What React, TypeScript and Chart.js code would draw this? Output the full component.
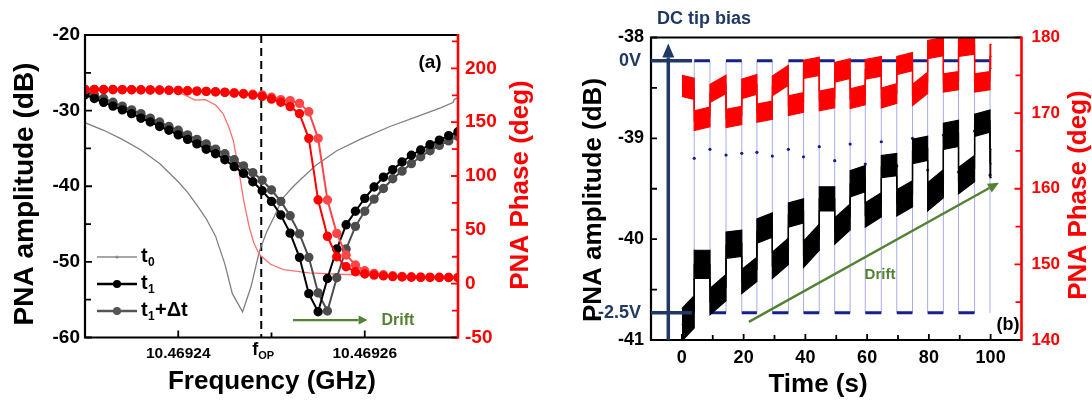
import React, { useEffect, useRef } from "react";
import { Chart, registerables } from "chart.js";
Chart.register(...registerables);

// ================= Panel (a) data =================
const FREQ_START_GHZ = 10.46923;
const FREQ_END_GHZ = 10.46927;
const FOP_GHZ = 10.4692489;
// sweep offsets (kHz from FREQ_START_GHZ)
const SWEEP_KHZ = [0, 1, 2, 3, 4, 5, 6, 7, 8, 9, 10, 11, 12, 13, 14, 15, 16, 17, 18, 19, 20,
  21, 22, 23, 24, 25, 26, 27, 28, 29, 30, 31, 32, 33, 34, 35, 36, 37, 38, 39, 40];
const AMP_T1 = [-27.9, -28.4, -28.9, -29.4, -29.9, -30.4, -31.0, -31.5, -32.1, -32.6,
  -33.2, -33.8, -34.4, -35.1, -35.7, -36.5, -37.4, -38.3, -39.4, -40.6,
  -42.0, -43.8, -46.2, -49.4, -54.2, -56.6, -52.2, -48.3, -45.1, -43.3,
  -41.6, -40.1, -38.8, -37.8, -36.8, -35.9, -35.2, -34.5, -33.9, -33.3, -32.8];
const AMP_T1DT = [-27.4, -27.9, -28.4, -28.9, -29.4, -29.9, -30.4, -31.0, -31.5, -32.1,
  -32.6, -33.2, -33.8, -34.4, -35.1, -35.7, -36.5, -37.3, -38.2, -39.2,
  -40.5, -42.0, -43.9, -46.3, -49.4, -54.1, -56.5, -52.1, -48.3, -45.3,
  -43.3, -41.7, -40.3, -39.0, -38.0, -37.0, -36.1, -35.3, -34.6, -34.0, -33.4];
const PHASE_T1 = [180.5, 180.5, 180.4, 180.4, 180.3, 180.2, 180.1, 180.0, 179.9, 179.7,
  179.5, 179.2, 178.9, 178.6, 178.2, 177.7, 177.0, 176.2, 175.2, 174.0,
  171.5, 168.5, 164.5, 158.0, 135.0, 77.7, 44.0, 25.0, 15.7, 11.1,
  9.0, 8.0, 7.2, 6.6, 6.2, 6.0, 5.9, 5.8, 5.7, 5.7, 5.6];
const PHASE_T1DT = [180.3, 180.3, 180.3, 180.2, 180.2, 180.1, 180.0, 179.9, 179.8, 179.6,
  179.4, 179.2, 178.9, 178.6, 178.3, 177.9, 177.4, 176.8, 176.0, 175.2,
  173.2, 171.0, 170.0, 167.5, 159.7, 135.0, 77.7, 46.7, 26.6, 17.3,
  12.0, 9.6, 8.3, 7.4, 6.8, 6.4, 6.1, 6.0, 5.9, 5.8, 5.8];
const T0_AMP_KHZ = [0, 2, 4, 6, 8, 10, 11, 12, 13, 14, 15, 15.8, 16.9, 17.8, 18.7, 19.5, 20.3,
  21.2, 22.2, 23.2, 24.8, 27, 29.5, 32.7, 35.6, 38.2, 39.5, 39.6, 40];
const T0_AMP = [-31.6, -32.6, -33.8, -35.2, -37.0, -39.4, -40.8, -42.5, -44.3, -46.6, -50.3,
  -54.2, -56.6, -53.3, -48.6, -46.0, -44.0, -41.6, -40.2, -39.0, -37.2, -35.3, -33.8,
  -32.1, -30.8, -29.6, -28.9, -28.5, -28.3];
const T0_PHASE_KHZ = [0, 4, 8, 9.4, 10.5, 11.8, 12.9, 14, 14.8, 15.4, 15.9, 16.4, 17, 17.6,
  18.1, 18.7, 19.9, 21.3, 24, 28, 32, 36, 40];
const T0_PHASE = [180.5, 180.3, 179.8, 179.0, 176.0, 170.5, 171.0, 166.0, 158.0, 146.0,
  133.0, 110.0, 78.0, 53.0, 38.0, 27.0, 18.0, 13.0, 10.0, 8.5, 7.5, 6.5, 6.0];

const A_AMP_TICKS = [-60, -50, -40, -30, -20];
const A_AMP_MINOR = [-55, -45, -35, -25];
const A_PHASE_TICKS = [-50, 0, 50, 100, 150, 200];
const A_PHASE_MINOR = [-25, 25, 75, 125, 175, 225];
const A_FREQ_TICKS = [10.46924, 10.46926];
const A_FREQ_MINOR = [10.46925];

// ================= Panel (b) data =================
const BIAS_EDGES_S = [4.0, 9.1, 14.3, 19.4, 24.3, 29.3, 34.5, 39.4, 44.5, 49.5,
  54.5, 59.4, 64.6, 69.6, 74.7, 79.6, 84.7, 89.6, 94.8, 99.8];
const TIME_START_S = 0;
const TIME_END_S = 100.3;
// per-segment centre of the noisy band (start / end of each segment)
const AMP_B_START = [-40.85, -40.25, -40.62, -40.06, -40.42, -39.92, -40.26, -39.76, -40.15, -39.60,
  -39.92, -39.45, -39.76, -39.28, -39.64, -39.13, -39.58, -38.98, -39.42, -38.87, -39.25];
const AMP_B_END = [-40.72, -40.25, -40.48, -40.04, -40.30, -39.86, -40.12, -39.72, -39.98, -39.60,
  -39.78, -39.40, -39.66, -39.26, -39.55, -39.10, -39.45, -38.95, -39.30, -38.83, -39.25];
const AMP_B_HALF_SPREAD = [0.16, 0.14, 0.13, 0.13, 0.12, 0.12, 0.13, 0.12, 0.13, 0.12,
  0.13, 0.13, 0.12, 0.11, 0.13, 0.12, 0.14, 0.13, 0.13, 0.11, 0.14];
const PHASE_B_START = [173.6, 169.0, 172.6, 169.3, 173.2, 170.0, 173.6, 171.0, 175.8, 171.6,
  175.4, 171.9, 175.8, 172.0, 176.3, 172.4, 178.4, 174.0, 178.7, 174.0, 177.5];
const PHASE_B_END = [173.2, 169.5, 173.8, 169.7, 173.8, 170.4, 175.0, 171.4, 176.2, 172.0,
  175.9, 172.4, 176.2, 172.6, 176.8, 174.0, 178.8, 174.3, 179.0, 174.3, 177.5];
const PHASE_B_HALF_SPREAD = [1.4, 1.3, 1.2, 1.2, 1.3, 1.2, 1.3, 1.3, 1.2, 1.3,
  1.3, 1.3, 1.3, 1.3, 1.2, 1.4, 1.2, 1.2, 1.2, 1.2, 1.6];
const BIAS_V = [-2.5, 0, -2.5, 0, -2.5, 0, -2.5, 0, -2.5, 0, -2.5, 0, -2.5, 0, -2.5, 0,
  -2.5, 0, -2.5, 0, -2.5];
const BIAS_MID_V = [-0.968, -0.879, -0.936, -0.919, -0.909, -0.946, -0.879, -0.953, -0.853, -0.992,
  -0.827, -1.025, -0.804, -1.045, -0.770, -1.084, -0.737, -1.104, -0.698, -1.134];

const B_AMP_TICKS = [-41, -40, -39, -38];
const B_AMP_MINOR = [-40.5, -39.5, -38.5];
const B_PHASE_TICKS = [140, 150, 160, 170, 180];
const B_PHASE_MINOR = [145, 155, 165, 175];
const B_TIME_TICKS = [0, 20, 40, 60, 80, 100];
const B_TIME_MINOR = [10, 30, 50, 70, 90];

// ================= helpers =================
const FONT = '"Liberation Sans", Arial, Helvetica, sans-serif';
const bold = (s: number) => `bold ${s}px ${FONT}`;
const RED = "#ff0000";
const NAVY = "#1f3864";
const WAVE = "#16208a";
const GREEN = "#548235";

function txt(ctx: CanvasRenderingContext2D, s: string, x: number, y: number, font: string,
  color: string, align: CanvasTextAlign = "center", rot = 0) {
  ctx.save();
  ctx.translate(x, y);
  ctx.rotate(rot);
  ctx.font = font;
  ctx.fillStyle = color;
  ctx.textAlign = align;
  ctx.textBaseline = "middle";
  ctx.fillText(s, 0, 0);
  ctx.restore();
}

function arrow(ctx: CanvasRenderingContext2D, x1: number, y1: number, x2: number, y2: number,
  color: string, lw: number, hl: number, hw: number) {
  const a = Math.atan2(y2 - y1, x2 - x1);
  const bx = x2 - hl * Math.cos(a), by = y2 - hl * Math.sin(a);
  ctx.save();
  ctx.strokeStyle = color; ctx.fillStyle = color; ctx.lineWidth = lw;
  ctx.beginPath(); ctx.moveTo(x1, y1); ctx.lineTo(bx, by); ctx.stroke();
  ctx.beginPath();
  ctx.moveTo(x2, y2);
  ctx.lineTo(bx + hw * Math.sin(a), by - hw * Math.cos(a));
  ctx.lineTo(bx - hw * Math.sin(a), by + hw * Math.cos(a));
  ctx.closePath(); ctx.fill();
  ctx.restore();
}

function ticksY(ctx: CanvasRenderingContext2D, scale: any, vals: number[], x: number, dir: number,
  len: number, color: string) {
  ctx.strokeStyle = color; ctx.lineWidth = 1.8; ctx.beginPath();
  for (const v of vals) { const p = scale.getPixelForValue(v); ctx.moveTo(x, p); ctx.lineTo(x + dir * len, p); }
  ctx.stroke();
}
function ticksX(ctx: CanvasRenderingContext2D, scale: any, vals: number[], y: number, len: number, color: string) {
  ctx.strokeStyle = color; ctx.lineWidth = 1.8; ctx.beginPath();
  for (const v of vals) { const p = scale.getPixelForValue(v); ctx.moveTo(p, y); ctx.lineTo(p, y - len); }
  ctx.stroke();
}
function frame(ctx: CanvasRenderingContext2D, ca: any) {
  const { left, right, top, bottom } = ca;
  ctx.lineWidth = 2.2; ctx.strokeStyle = "#000";
  ctx.beginPath();
  ctx.moveTo(right, top); ctx.lineTo(left, top); ctx.lineTo(left, bottom); ctx.lineTo(right, bottom);
  ctx.stroke();
  ctx.strokeStyle = RED; ctx.lineWidth = 2.6;
  ctx.beginPath(); ctx.moveTo(right, top - 1); ctx.lineTo(right, bottom + 1); ctx.stroke();
}

const sweep = (khz: number[], vals: number[]) =>
  khz.map((k, i) => ({ x: FREQ_START_GHZ + k * 1e-6, y: vals[i] }));

const segStarts = () => [TIME_START_S, ...BIAS_EDGES_S];
const segEnds = () => [...BIAS_EDGES_S, TIME_END_S];
// continuous staircase through the segments, offset by +/- the band half-spread
function segEdge(a: number[], b: number[], half: number[] | null, sign: number) {
  const s = segStarts(), e = segEnds(); const out: any[] = [];
  for (let i = 0; i < s.length; i++) {
    const h = half ? half[i] * sign : 0;
    out.push({ x: s[i], y: a[i] + h }, { x: e[i], y: b[i] + h });
  }
  return out;
}

const noGrid = { display: false, drawTicks: false };
const noBorder = { display: false };

// ================= chart configs =================
function configA(): any {
  const plugin = {
    id: "panelA",
    beforeDatasetsDraw(chart: any) {
      const { ctx, chartArea: ca } = chart;
      const fx = chart.scales.x.getPixelForValue(FOP_GHZ);
      ctx.save();
      ctx.strokeStyle = "#000"; ctx.lineWidth = 2; ctx.setLineDash([8, 5]);
      ctx.beginPath(); ctx.moveTo(fx, ca.top); ctx.lineTo(fx, ca.bottom); ctx.stroke();
      ctx.restore();
    },
    afterDraw(chart: any) {
      const { ctx, chartArea: ca } = chart;
      const sx = chart.scales.x, sy = chart.scales.y, sp = chart.scales.y2;
      ctx.save();
      ticksY(ctx, sy, A_AMP_TICKS, ca.left, 1, 7, "#000");
      ticksY(ctx, sy, A_AMP_MINOR, ca.left, 1, 6, "#000");
      ticksY(ctx, sp, A_PHASE_TICKS, ca.right, -1, 7, RED);
      ticksY(ctx, sp, A_PHASE_MINOR, ca.right, -1, 6, RED);
      ticksX(ctx, sx, A_FREQ_TICKS, ca.bottom, 7, "#000");
      ticksX(ctx, sx, A_FREQ_MINOR, ca.bottom, 5, "#000");
      frame(ctx, ca);
      // titles
      txt(ctx, "PNA amplitude (dB)", 25, 194, bold(28), "#000", "center", -Math.PI / 2);
      txt(ctx, "PNA Phase (deg)", 521, 185, bold(26), RED, "center", -Math.PI / 2);
      txt(ctx, "Frequency (GHz)", 272, 382, bold(26), "#000");
      // f_OP label
      const fx = sx.getPixelForValue(FOP_GHZ);
      txt(ctx, "f", fx - 9, 350, bold(18), "#000", "left");
      txt(ctx, "OP", fx - 3, 356, bold(11), "#000", "left");
      // (a)
      txt(ctx, "(a)", 430, 63, bold(19), "#000");
      // drift arrow
      const ay = sy.getPixelForValue(-57.7);
      arrow(ctx, sx.getPixelForValue(FREQ_START_GHZ + 22.3e-6), ay,
        sx.getPixelForValue(FREQ_START_GHZ + 30.3e-6), ay, GREEN, 2.4, 9, 4.5);
      txt(ctx, "Drift", sx.getPixelForValue(FREQ_START_GHZ + 31.8e-6), ay, bold(16), GREEN, "left");
      // legend
      const rows = [
        { y: 257, color: "#8a8a8a", lw: 1.4, r: 1.6, sub: "0", extra: "" },
        { y: 284, color: "#000", lw: 2.4, r: 4, sub: "1", extra: "" },
        { y: 311, color: "#555", lw: 2.4, r: 4, sub: "1", extra: "+\u0394t" },
      ];
      for (const r of rows) {
        ctx.strokeStyle = r.color; ctx.lineWidth = r.lw;
        ctx.beginPath(); ctx.moveTo(97, r.y); ctx.lineTo(137, r.y); ctx.stroke();
        ctx.fillStyle = r.color; ctx.beginPath(); ctx.arc(117, r.y, r.r, 0, Math.PI * 2); ctx.fill();
        txt(ctx, "t", 141, r.y - 1, bold(20), "#000", "left");
        txt(ctx, r.sub, 148, r.y + 6, bold(12), "#000", "left");
        if (r.extra) txt(ctx, r.extra, 155, r.y - 1, bold(20), "#000", "left");
      }
      ctx.restore();
    },
  };
  const pt = { pointRadius: 3.7, pointHoverRadius: 3.7, borderWidth: 2, tension: 0 };
  return {
    type: "line",
    data: {
      datasets: [
        { label: "t0 amplitude", data: sweep(T0_AMP_KHZ, T0_AMP), yAxisID: "y", borderColor: "#808080",
          borderWidth: 1.3, pointRadius: 0, order: 6 },
        { label: "t0 phase", data: sweep(T0_PHASE_KHZ, T0_PHASE), yAxisID: "y2", borderColor: "#ff7070",
          borderWidth: 1.3, pointRadius: 0, order: 5 },
        { label: "t1+\u0394t amplitude", data: sweep(SWEEP_KHZ, AMP_T1DT), yAxisID: "y", borderColor: "#4d4d4d",
          backgroundColor: "#4d4d4d", ...pt, order: 4 },
        { label: "t1 amplitude", data: sweep(SWEEP_KHZ, AMP_T1), yAxisID: "y", borderColor: "#000",
          backgroundColor: "#000", ...pt, order: 3 },
        { label: "t1+\u0394t phase", data: sweep(SWEEP_KHZ, PHASE_T1DT), yAxisID: "y2", borderColor: "#ff4545",
          backgroundColor: "#ff4545", ...pt, order: 2 },
        { label: "t1 phase", data: sweep(SWEEP_KHZ, PHASE_T1), yAxisID: "y2", borderColor: RED,
          backgroundColor: RED, ...pt, order: 1 },
      ],
    },
    options: {
      responsive: false, animation: false, devicePixelRatio: 1,
      layout: { padding: { top: 35, left: 0, right: 0, bottom: 0 } },
      plugins: { legend: { display: false }, tooltip: { enabled: false } },
      events: [],
      scales: {
        x: {
          type: "linear", min: FREQ_START_GHZ, max: FREQ_END_GHZ, grid: noGrid, border: noBorder,
          ticks: { color: "#000", font: { size: 15.5, weight: "bold" }, padding: 7, maxRotation: 0,
            autoSkip: false, callback: (v: any) => Number(v).toFixed(5) },
          afterBuildTicks: (s: any) => { s.ticks = A_FREQ_TICKS.map((v) => ({ value: v })); },
          afterFit: (s: any) => { s.height = 63.5; },
        },
        y: {
          position: "left", min: -60, max: -20, grid: noGrid, border: noBorder,
          ticks: { color: "#000", font: { size: 19, weight: "bold" }, padding: 5 },
          afterBuildTicks: (s: any) => { s.ticks = A_AMP_TICKS.map((v) => ({ value: v })); },
          afterFit: (s: any) => { s.width = 85; },
        },
        y2: {
          position: "right", min: -50, max: 231, grid: noGrid, border: noBorder,
          ticks: { color: RED, font: { size: 19, weight: "bold" }, padding: 7 },
          afterBuildTicks: (s: any) => { s.ticks = A_PHASE_TICKS.map((v) => ({ value: v })); },
          afterFit: (s: any) => { s.width = 88; },
        },
      },
    },
    plugins: [plugin],
  };
}

function configB(): any {
  const plugin = {
    id: "panelB",
    afterDraw(chart: any) {
      const { ctx, chartArea: ca } = chart;
      const sx = chart.scales.x, sy = chart.scales.y, sp = chart.scales.y2, sb = chart.scales.yb;
      ctx.save();
      ticksY(ctx, sy, B_AMP_TICKS, ca.left, 1, 6, "#000");
      ticksY(ctx, sy, B_AMP_MINOR, ca.left, 1, 6, "#000");
      ticksY(ctx, sp, B_PHASE_TICKS, ca.right, -1, 7, RED);
      ticksY(ctx, sp, B_PHASE_MINOR, ca.right, -1, 6, RED);
      ticksX(ctx, sx, B_TIME_TICKS, ca.bottom, 6, "#000");
      ticksX(ctx, sx, B_TIME_MINOR, ca.bottom, 5, "#000");
      frame(ctx, ca);
      // titles
      txt(ctx, "PNA amplitude (dB)", 48, 200, bold(26), "#000", "center", -Math.PI / 2);
      txt(ctx, "PNA Phase (deg)", 533, 195, bold(26), RED, "center", -Math.PI / 2);
      txt(ctx, "Time (s)", 272, 385, bold(26), "#000");
      // DC tip bias axis
      const ax = sx.getPixelForValue(-4.4);
      const y0 = sb.getPixelForValue(0), y25 = sb.getPixelForValue(-2.5);
      arrow(ctx, ax, ca.bottom, ax, ca.top + 6, NAVY, 3.5, 14, 6);
      ctx.strokeStyle = NAVY; ctx.lineWidth = 3.5;
      ctx.beginPath();
      ctx.moveTo(ca.left, y0); ctx.lineTo(sx.getPixelForValue(3.3), y0);
      ctx.moveTo(ca.left, y25); ctx.lineTo(sx.getPixelForValue(3.3), y25);
      ctx.stroke();
      txt(ctx, "0V", 95, y0, bold(18), NAVY, "right");
      txt(ctx, "-2.5V", 95, y25, bold(18), NAVY, "right");
      txt(ctx, "DC tip bias", 111, 19, bold(18), NAVY, "left");
      // drift
      arrow(ctx, sx.getPixelForValue(21.7), sy.getPixelForValue(-40.82),
        sx.getPixelForValue(102.7), sy.getPixelForValue(-39.44), GREEN, 2.4, 11, 5);
      txt(ctx, "Drift", 334, 275, bold(15), GREEN);
      txt(ctx, "(b)", 462, 325, bold(18), "#000");
      ctx.restore();
    },
  };
  const starts = segStarts(), ends = segEnds();
  const biasH: any[] = [];
  for (let i = 1; i < starts.length - 1; i++) {
    biasH.push({ x: starts[i], y: BIAS_V[i] }, { x: ends[i], y: BIAS_V[i] }, { x: ends[i], y: null });
  }
  const biasV: any[] = [];
  for (const e of BIAS_EDGES_S) biasV.push({ x: e, y: -2.5 }, { x: e, y: 0 }, { x: e, y: null });
  const biasMid = BIAS_EDGES_S.map((e, i) => ({ x: e, y: BIAS_MID_V[i] }));

  const datasets: any[] = [
    { label: "bias edges", data: biasV, yAxisID: "yb", borderColor: "#a9ace8", borderWidth: 1,
      pointRadius: 0, spanGaps: false, order: 9 },
    { label: "bias", data: biasH, yAxisID: "yb", borderColor: WAVE, borderWidth: 3,
      pointRadius: 0, spanGaps: false, borderCapStyle: "butt", order: 8 },
    { label: "bias transition", data: biasMid, yAxisID: "yb", showLine: false, pointRadius: 1.6,
      backgroundColor: WAVE, borderColor: WAVE, borderWidth: 0, order: 7 },
    // amplitude band (upper edge, then lower edge filled to it)
    { label: "amplitude upper", data: segEdge(AMP_B_START, AMP_B_END, AMP_B_HALF_SPREAD, 1), yAxisID: "y",
      borderColor: "#000", borderWidth: 1.2, pointRadius: 0, fill: false, order: 4 },
    { label: "amplitude lower", data: segEdge(AMP_B_START, AMP_B_END, AMP_B_HALF_SPREAD, -1), yAxisID: "y",
      borderColor: "#000", borderWidth: 1.2, pointRadius: 0, fill: "-1", backgroundColor: "#000", order: 4 },
    { label: "amplitude", data: segEdge(AMP_B_START, AMP_B_END, null, 1), yAxisID: "y",
      borderColor: "#000", borderWidth: 1.3, pointRadius: 0, order: 3 },
    // phase band
    { label: "phase upper", data: segEdge(PHASE_B_START, PHASE_B_END, PHASE_B_HALF_SPREAD, 1), yAxisID: "y2",
      borderColor: RED, borderWidth: 1.2, pointRadius: 0, fill: false, order: 2 },
    { label: "phase lower", data: segEdge(PHASE_B_START, PHASE_B_END, PHASE_B_HALF_SPREAD, -1), yAxisID: "y2",
      borderColor: RED, borderWidth: 1.2, pointRadius: 0, fill: "-1", backgroundColor: RED, order: 2 },
    { label: "phase", data: segEdge(PHASE_B_START, PHASE_B_END, null, 1), yAxisID: "y2",
      borderColor: RED, borderWidth: 1.3, pointRadius: 0, order: 1 },
  ];

  return {
    type: "line",
    data: { datasets },
    options: {
      responsive: false, animation: false, devicePixelRatio: 1,
      layout: { padding: { top: 37.5, left: 0, right: 0, bottom: 0 } },
      plugins: { legend: { display: false }, tooltip: { enabled: false } },
      events: [],
      scales: {
        x: {
          type: "linear", min: -10, max: 110, grid: noGrid, border: noBorder,
          ticks: { color: "#000", font: { size: 18, weight: "bold" }, padding: 7, maxRotation: 0, autoSkip: false },
          afterBuildTicks: (s: any) => { s.ticks = B_TIME_TICKS.map((v) => ({ value: v })); },
          afterFit: (s: any) => { s.height = 61; },
        },
        y: {
          position: "left", min: -41, max: -38, grid: noGrid, border: noBorder,
          ticks: { color: "#000", font: { size: 18, weight: "bold" }, padding: 7 },
          afterBuildTicks: (s: any) => { s.ticks = B_AMP_TICKS.map((v) => ({ value: v })); },
          afterFit: (s: any) => { s.width = 105; },
        },
        y2: {
          position: "right", min: 140, max: 180, grid: noGrid, border: noBorder,
          ticks: { color: RED, font: { size: 17, weight: "bold" }, padding: 10 },
          afterBuildTicks: (s: any) => { s.ticks = B_PHASE_TICKS.map((v) => ({ value: v })); },
          afterFit: (s: any) => { s.width = 70.5; },
        },
        yb: { display: false, min: -2.77, max: 0.23 },
      },
    },
    plugins: [plugin],
  };
}

export default function App() {
  const refA = useRef<HTMLCanvasElement>(null);
  const refB = useRef<HTMLCanvasElement>(null);
  useEffect(() => {
    Chart.defaults.font.family = FONT;
    const a = new Chart(refA.current as HTMLCanvasElement, configA());
    const b = new Chart(refB.current as HTMLCanvasElement, configB());
    return () => { a.destroy(); b.destroy(); };
  }, []);
  return (
    <div style={{ position: "absolute", left: 0, top: 0, width: 1092, height: 401, background: "#fff" }}>
      <canvas ref={refA} width={546} height={401}
        style={{ position: "absolute", left: 0, top: 0, width: 546, height: 401 }} />
      <canvas ref={refB} width={546} height={401}
        style={{ position: "absolute", left: 546, top: 0, width: 546, height: 401 }} />
    </div>
  );
}
